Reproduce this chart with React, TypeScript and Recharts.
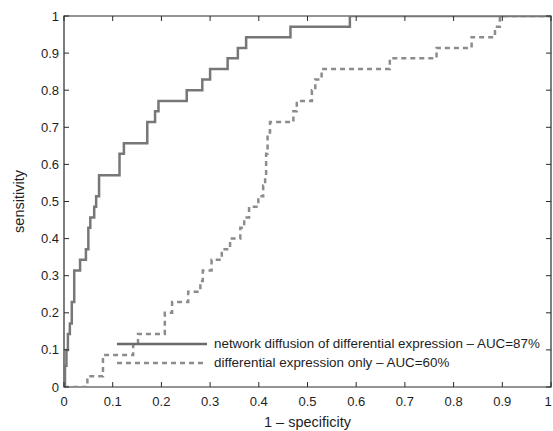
import React from 'react';
import { LineChart, Line, XAxis, YAxis, ReferenceArea, Legend, Label } from 'recharts';

// ---------- data ----------
const xTicks = [0, 0.1, 0.2, 0.3, 0.4, 0.5, 0.6, 0.7, 0.8, 0.9, 1];
const yTicks = [0, 0.1, 0.2, 0.3, 0.4, 0.5, 0.6, 0.7, 0.8, 0.9, 1];

const seriesNames = [
  'network diffusion of differential expression \u2013 AUC=87%',
  'differential expression only \u2013 AUC=60%',
];

// ROC vertices (start of each horizontal run): 1 - specificity, sensitivity
const diffusionFpr = [0, 0.002, 0.005, 0.008, 0.012, 0.016, 0.021, 0.033, 0.045, 0.05, 0.054, 0.062, 0.066, 0.072, 0.114, 0.123, 0.171, 0.187, 0.194, 0.252, 0.284, 0.3, 0.336, 0.357, 0.374, 0.465, 0.587, 1];
const diffusionTpr = [0, 0.057, 0.1, 0.143, 0.171, 0.229, 0.314, 0.343, 0.371, 0.429, 0.457, 0.486, 0.514, 0.571, 0.629, 0.657, 0.714, 0.743, 0.771, 0.8, 0.829, 0.857, 0.886, 0.914, 0.943, 0.971, 1, 1];

const exprFpr = [0, 0.048, 0.08, 0.142, 0.152, 0.207, 0.222, 0.255, 0.28, 0.285, 0.303, 0.324, 0.341, 0.362, 0.37, 0.38, 0.399, 0.409, 0.413, 0.415, 0.418, 0.423, 0.471, 0.478, 0.509, 0.516, 0.529, 0.669, 0.765, 0.837, 0.885, 0.895, 1];
const exprTpr = [0, 0.029, 0.086, 0.114, 0.143, 0.2, 0.229, 0.257, 0.286, 0.314, 0.343, 0.371, 0.4, 0.429, 0.457, 0.486, 0.514, 0.543, 0.571, 0.629, 0.686, 0.714, 0.743, 0.771, 0.8, 0.829, 0.857, 0.886, 0.914, 0.943, 0.971, 1, 1];

const diffusionData = diffusionFpr.map((x, i) => ({ x, y: diffusionTpr[i] }));
const exprData = exprFpr.map((x, i) => ({ x, y: exprTpr[i] }));

// ---------- layout ----------
const W = 553;
const H = 431;
const M = { top: 16, right: 2, bottom: 0, left: 0 };
const Y_AXIS_W = 64;
const X_AXIS_H = 44;
const X_TICK_MARGIN = 10;
const Y_TICK_MARGIN = 5;
const PLOT_RIGHT = W - M.right;
const PLOT_TOP = M.top;
const TICK_LEN = 5;

const FONT = '"Liberation Sans", Arial, Helvetica, sans-serif';
const TEXT = '#1e1e1e';
const FRAME = '#2a2a2a';
const C_SOLID = '#777777';
const C_DASH = '#8c8c8c';
const DASH = '5 4';
const TICK_FS = 13;

const fmt = (v: number) => String(v);

const XTick = (props: any) => {
  const { x, y, payload } = props;
  const axisY = y - X_TICK_MARGIN;
  const tx = Math.min(x, W - 5);
  return (
    <g>
      <line x1={x} x2={x} y1={axisY} y2={axisY - TICK_LEN} stroke={FRAME} strokeWidth={1} />
      <line x1={x} x2={x} y1={PLOT_TOP} y2={PLOT_TOP + TICK_LEN} stroke={FRAME} strokeWidth={1} />
      <text x={tx} y={y} dy="0.71em" textAnchor="middle" fontSize={TICK_FS} fontFamily={FONT} fill={TEXT}>
        {fmt(payload.value)}
      </text>
    </g>
  );
};

const YTick = (props: any) => {
  const { x, y, payload } = props;
  const axisX = x + Y_TICK_MARGIN;
  return (
    <g>
      <line x1={axisX} x2={axisX + TICK_LEN} y1={y} y2={y} stroke={FRAME} strokeWidth={1} />
      <line x1={PLOT_RIGHT} x2={PLOT_RIGHT - TICK_LEN} y1={y} y2={y} stroke={FRAME} strokeWidth={1} />
      <text x={x} y={y} dy="0.35em" textAnchor="end" fontSize={TICK_FS} fontFamily={FONT} fill={TEXT}>
        {fmt(payload.value)}
      </text>
    </g>
  );
};

const XLabel = (props: any) => {
  const vb = props.viewBox || {};
  return (
    <text x={vb.x + vb.width / 2} y={H - 4} textAnchor="middle" fontSize={14.5} fontFamily={FONT} fill={TEXT}>
      1 {'\u2013'} specificity
    </text>
  );
};

const YLabel = (props: any) => {
  const vb = props.viewBox || {};
  const cx = 19;
  const cy = vb.y + vb.height / 2;
  return (
    <text x={cx} y={cy} dy="0.35em" textAnchor="middle" fontSize={14.5} fontFamily={FONT} fill={TEXT}
      transform={`rotate(-90 ${cx} ${cy})`}>
      sensitivity
    </text>
  );
};

const LegendContent = () => {
  const styles = [
    { color: '#6a6a6a', dash: undefined as string | undefined },
    { color: C_DASH, dash: DASH },
  ];
  return (
    <div style={{ fontFamily: FONT, fontSize: 13.4, color: TEXT }}>
      {seriesNames.map((name, i) => (
        <div key={name} style={{ display: 'flex', alignItems: 'center', height: 19, whiteSpace: 'nowrap' }}>
          <svg width={90} height={6} style={{ marginRight: 7, display: 'block' }}>
            <line x1={0} x2={90} y1={3} y2={3} stroke={styles[i].color} strokeWidth={2.5}
              strokeDasharray={styles[i].dash} />
          </svg>
          <span>{name}</span>
        </div>
      ))}
    </div>
  );
};

export default function App() {
  return (
    <div style={{ position: 'absolute', left: 0, top: 0, width: W, height: H, background: '#fff', overflow: 'hidden' }}>
      <LineChart width={W} height={H} margin={M}>
        <XAxis
          dataKey="x"
          type="number"
          domain={[0, 1]}
          ticks={xTicks}
          interval={0}
          height={X_AXIS_H}
          axisLine={false}
          tickLine={false}
          tickSize={0}
          tickMargin={X_TICK_MARGIN}
          tick={<XTick />}
          allowDataOverflow
        >
          <Label content={<XLabel />} />
        </XAxis>
        <YAxis
          dataKey="y"
          type="number"
          domain={[0, 1]}
          ticks={yTicks}
          interval={0}
          width={Y_AXIS_W}
          axisLine={false}
          tickLine={false}
          tickSize={0}
          tickMargin={Y_TICK_MARGIN}
          tick={<YTick />}
          allowDataOverflow
        >
          <Label content={<YLabel />} />
        </YAxis>
        <Line
          data={exprData}
          dataKey="y"
          type="stepAfter"
          stroke={C_DASH}
          strokeWidth={2.5}
          strokeDasharray={DASH}
          dot={false}
          activeDot={false}
          isAnimationActive={false}
          name={seriesNames[1]}
        />
        <Line
          data={diffusionData}
          dataKey="y"
          type="stepAfter"
          stroke={C_SOLID}
          strokeWidth={2.5}
          dot={false}
          activeDot={false}
          isAnimationActive={false}
          name={seriesNames[0]}
        />
        <ReferenceArea x1={0} x2={1} y1={0} y2={1} fill="none" stroke={FRAME} strokeWidth={1.2} ifOverflow="visible" />
        <Legend
          layout="vertical"
          align="center"
          verticalAlign="middle"
          content={<LegendContent />}
          wrapperStyle={{ left: 117, top: 334, width: 'auto' }}
        />
      </LineChart>
    </div>
  );
}
